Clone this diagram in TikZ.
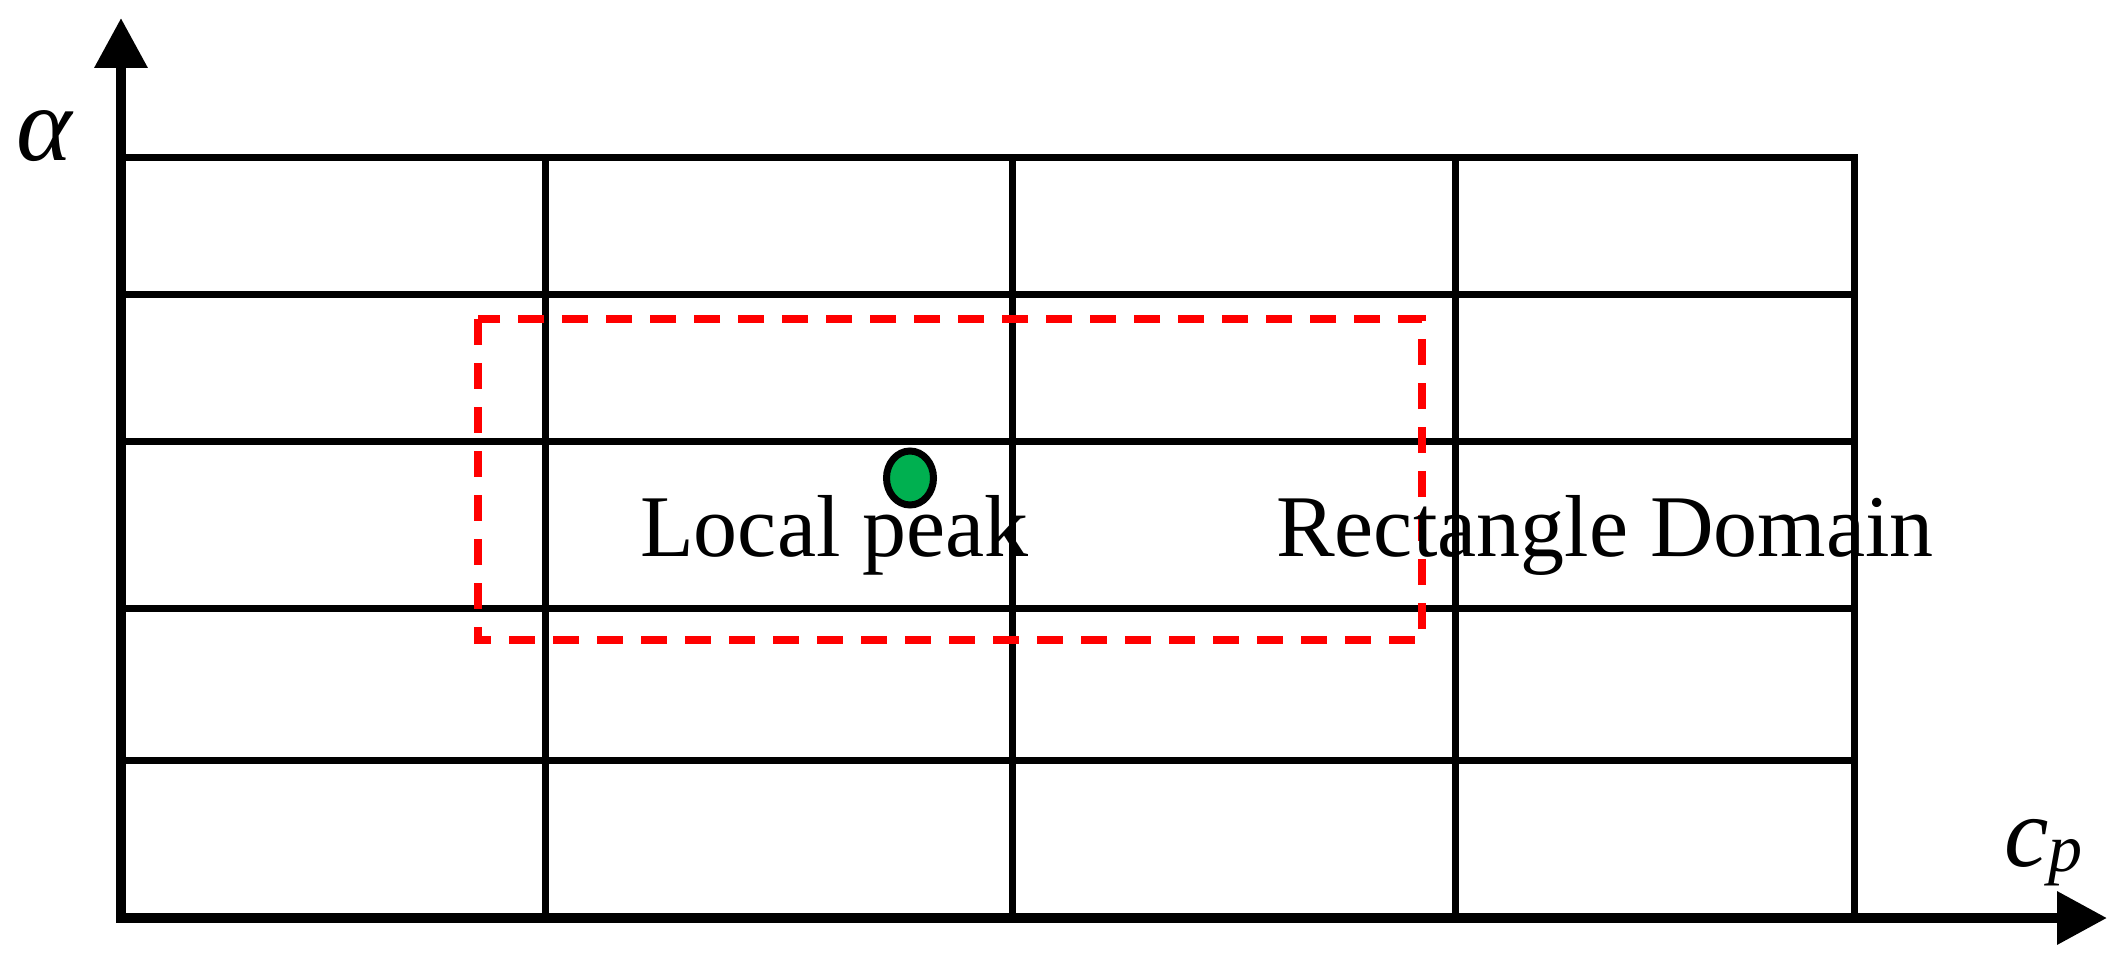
\documentclass[tikz,border=0pt]{standalone}
\usepackage{fontspec}
\setmainfont{Liberation Serif}
\usetikzlibrary{arrows.meta}
\definecolor{peakgreen}{RGB}{0,176,80}
\begin{document}
\begin{tikzpicture}[x=1pt,y=-1pt,
  axis/.style={line width=10pt,{Triangle[length=50pt,width=51pt]}-{Triangle[length=50pt,width=51pt]}},
  gridline/.style={line width=7pt,line cap=rect},
  domainbox/.style={red,line width=7.5pt,dash pattern=on 26pt off 18pt},
  lbl/.style={anchor=base west,inner sep=0pt,font=\fontsize{88}{88}\selectfont},
  mathlbl/.style={anchor=base west,inner sep=0pt,font=\fontsize{100}{100}\selectfont\itshape}]
\useasboundingbox (0,0) rectangle (2125,965);
% grid
\foreach \yy in {158,295,441,608,760}
  \draw[gridline] (120,\yy) -- (1854,\yy);
\foreach \xx in {545,1012,1455,1854}
  \draw[gridline] (\xx,158) -- (\xx,918);
% axes
\coordinate (ytip) at (121,18);
\coordinate (O) at (121,918);
\coordinate (xtip) at (2107,918);
\draw[axis] (ytip) -- (O) -- (xtip);
% rectangle domain
\draw[domainbox] (478,319) rectangle (1422,640);
% local peak
\draw[line width=7pt,fill=peakgreen] (910,478) ellipse [x radius=23.5pt,y radius=27pt];
\node[lbl] (peak) at (640,556) {Local peak};
\node[lbl] (dom) at (1276,556) {Rectangle Domain};
% axis labels
\node[mathlbl,font=\fontsize{106}{106}\selectfont\itshape] (alpha) at (16,161) {α};
\node[mathlbl] (cp) at (2004,866) {c\raisebox{-5pt}{\fontsize{68}{68}\selectfont p}};
\end{tikzpicture}
\end{document}
